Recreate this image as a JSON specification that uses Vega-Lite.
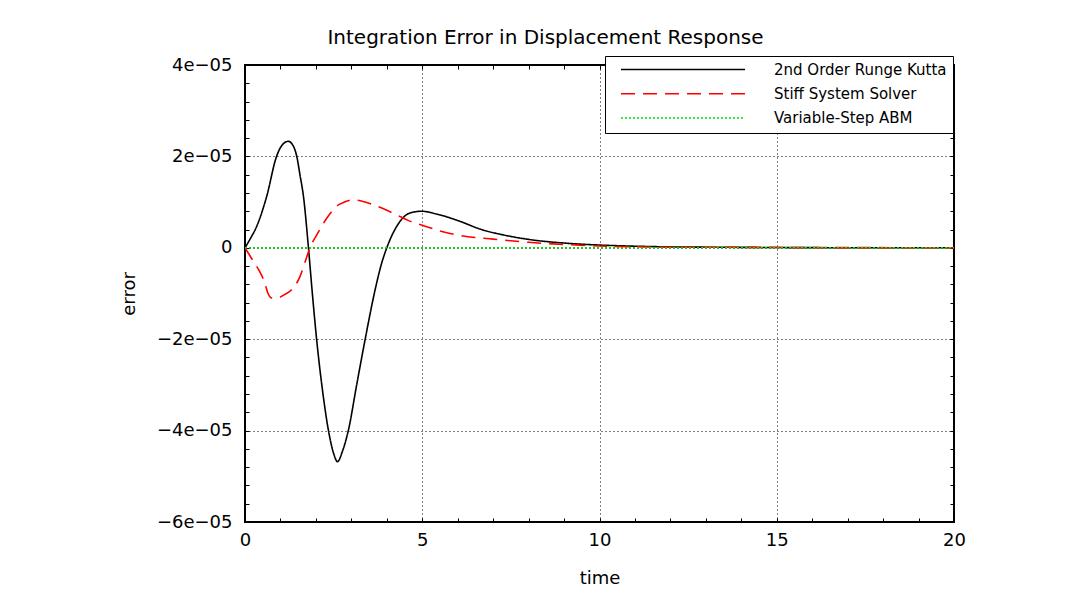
{
  "$schema": "https://vega.github.io/schema/vega-lite/v6.json",
  "autosize": "none",
  "width": 709,
  "height": 457,
  "padding": {"left": 245, "top": 65, "right": 131, "bottom": 77},
  "background": "white",
  "config": {
    "font": "DejaVu Sans",
    "view": {"stroke": "black", "strokeWidth": 2},
    "axis": {"labelColor": "black", "titleColor": "black", "tickColor": "black", "domain": false, "labelFontSize": 18, "titleFontSize": 18, "titleFontWeight": "normal", "labelFont": "DejaVu Sans", "titleFont": "DejaVu Sans"}
  },
  "title": {"text": "Integration Error in Displacement Response", "fontSize": 20, "fontWeight": "normal", "font": "DejaVu Sans", "color": "black", "anchor": "middle", "dx": -54, "baseline": "alphabetic", "offset": -8},
  "data": {"values": [
    {"s": "2nd Order Runge Kutta", "t": 0, "v": 0},
    {"s": "2nd Order Runge Kutta", "t": 0.15, "v": 0.2e-5},
    {"s": "2nd Order Runge Kutta", "t": 0.33, "v": 0.47e-5},
    {"s": "2nd Order Runge Kutta", "t": 0.61, "v": 1.12e-5},
    {"s": "2nd Order Runge Kutta", "t": 0.89, "v": 2.0e-5},
    {"s": "2nd Order Runge Kutta", "t": 1.05, "v": 2.25e-5},
    {"s": "2nd Order Runge Kutta", "t": 1.22, "v": 2.33e-5},
    {"s": "2nd Order Runge Kutta", "t": 1.38, "v": 2.2e-5},
    {"s": "2nd Order Runge Kutta", "t": 1.46, "v": 2.0e-5},
    {"s": "2nd Order Runge Kutta", "t": 1.55, "v": 1.6e-5},
    {"s": "2nd Order Runge Kutta", "t": 1.65, "v": 1.12e-5},
    {"s": "2nd Order Runge Kutta", "t": 1.79, "v": 0},
    {"s": "2nd Order Runge Kutta", "t": 1.9, "v": -1.0e-5},
    {"s": "2nd Order Runge Kutta", "t": 2.02, "v": -2.0e-5},
    {"s": "2nd Order Runge Kutta", "t": 2.2, "v": -3.2e-5},
    {"s": "2nd Order Runge Kutta", "t": 2.35, "v": -3.98e-5},
    {"s": "2nd Order Runge Kutta", "t": 2.5, "v": -4.5e-5},
    {"s": "2nd Order Runge Kutta", "t": 2.61, "v": -4.68e-5},
    {"s": "2nd Order Runge Kutta", "t": 2.75, "v": -4.45e-5},
    {"s": "2nd Order Runge Kutta", "t": 2.92, "v": -3.98e-5},
    {"s": "2nd Order Runge Kutta", "t": 3.15, "v": -3.0e-5},
    {"s": "2nd Order Runge Kutta", "t": 3.39, "v": -2.0e-5},
    {"s": "2nd Order Runge Kutta", "t": 3.67, "v": -0.92e-5},
    {"s": "2nd Order Runge Kutta", "t": 3.85, "v": -0.35e-5},
    {"s": "2nd Order Runge Kutta", "t": 4.0, "v": 0},
    {"s": "2nd Order Runge Kutta", "t": 4.28, "v": 0.47e-5},
    {"s": "2nd Order Runge Kutta", "t": 4.65, "v": 0.76e-5},
    {"s": "2nd Order Runge Kutta", "t": 4.98, "v": 0.8e-5},
    {"s": "2nd Order Runge Kutta", "t": 5.4, "v": 0.74e-5},
    {"s": "2nd Order Runge Kutta", "t": 6.06, "v": 0.58e-5},
    {"s": "2nd Order Runge Kutta", "t": 6.63, "v": 0.41e-5},
    {"s": "2nd Order Runge Kutta", "t": 7.3, "v": 0.28e-5},
    {"s": "2nd Order Runge Kutta", "t": 8.13, "v": 0.17e-5},
    {"s": "2nd Order Runge Kutta", "t": 9.07, "v": 0.1e-5},
    {"s": "2nd Order Runge Kutta", "t": 10, "v": 0.06e-5},
    {"s": "2nd Order Runge Kutta", "t": 10.77, "v": 0.04e-5},
    {"s": "2nd Order Runge Kutta", "t": 12, "v": 0.02e-5},
    {"s": "2nd Order Runge Kutta", "t": 14, "v": 0.01e-5},
    {"s": "2nd Order Runge Kutta", "t": 16, "v": 0.003e-5},
    {"s": "2nd Order Runge Kutta", "t": 20, "v": 0},
    {"s": "Stiff System Solver", "t": 0, "v": 0},
    {"s": "Stiff System Solver", "t": 0.2, "v": -0.25e-5},
    {"s": "Stiff System Solver", "t": 0.4, "v": -0.5e-5},
    {"s": "Stiff System Solver", "t": 0.55, "v": -0.75e-5},
    {"s": "Stiff System Solver", "t": 0.65, "v": -1.0e-5},
    {"s": "Stiff System Solver", "t": 0.75, "v": -1.1e-5},
    {"s": "Stiff System Solver", "t": 0.9, "v": -1.1e-5},
    {"s": "Stiff System Solver", "t": 1.1, "v": -1.03e-5},
    {"s": "Stiff System Solver", "t": 1.3, "v": -0.93e-5},
    {"s": "Stiff System Solver", "t": 1.55, "v": -0.63e-5},
    {"s": "Stiff System Solver", "t": 1.7, "v": -0.3e-5},
    {"s": "Stiff System Solver", "t": 1.83, "v": 0},
    {"s": "Stiff System Solver", "t": 2.0, "v": 0.25e-5},
    {"s": "Stiff System Solver", "t": 2.15, "v": 0.45e-5},
    {"s": "Stiff System Solver", "t": 2.3, "v": 0.64e-5},
    {"s": "Stiff System Solver", "t": 2.45, "v": 0.8e-5},
    {"s": "Stiff System Solver", "t": 2.6, "v": 0.92e-5},
    {"s": "Stiff System Solver", "t": 2.8, "v": 1.0e-5},
    {"s": "Stiff System Solver", "t": 3.06, "v": 1.05e-5},
    {"s": "Stiff System Solver", "t": 3.3, "v": 1.02e-5},
    {"s": "Stiff System Solver", "t": 3.62, "v": 0.94e-5},
    {"s": "Stiff System Solver", "t": 4.0, "v": 0.82e-5},
    {"s": "Stiff System Solver", "t": 4.28, "v": 0.72e-5},
    {"s": "Stiff System Solver", "t": 4.6, "v": 0.6e-5},
    {"s": "Stiff System Solver", "t": 4.98, "v": 0.5e-5},
    {"s": "Stiff System Solver", "t": 5.5, "v": 0.37e-5},
    {"s": "Stiff System Solver", "t": 6.06, "v": 0.27e-5},
    {"s": "Stiff System Solver", "t": 7.0, "v": 0.19e-5},
    {"s": "Stiff System Solver", "t": 8.0, "v": 0.12e-5},
    {"s": "Stiff System Solver", "t": 9.07, "v": 0.07e-5},
    {"s": "Stiff System Solver", "t": 10, "v": 0.04e-5},
    {"s": "Stiff System Solver", "t": 12, "v": 0.015e-5},
    {"s": "Stiff System Solver", "t": 14, "v": 0.01e-5},
    {"s": "Stiff System Solver", "t": 20, "v": 0},
    {"s": "Variable-Step ABM", "t": 0, "v": 0},
    {"s": "Variable-Step ABM", "t": 5, "v": 0},
    {"s": "Variable-Step ABM", "t": 10, "v": 0},
    {"s": "Variable-Step ABM", "t": 15, "v": 0},
    {"s": "Variable-Step ABM", "t": 20, "v": 0}
  ]},
  "layer": [
    {
      "mark": {"type": "line", "strokeWidth": 1.6, "interpolate": "monotone", "clip": true},
      "encoding": {
        "x": {"field": "t", "type": "quantitative", "scale": {"domain": [0, 20], "nice": false, "zero": false},
          "axis": {"orient": "bottom", "title": "time", "values": [0,1,2,3,4,5,6,7,8,9,10,11,12,13,14,15,16,17,18,19,20],
            "labelExpr": "datum.value % 5 === 0 ? datum.label : ''", "labelFlush": false, "labelPadding": 13, "titlePadding": 20,
            "tickSize": -4, "tickWidth": 1,
            "grid": true, "gridColor": "black", "gridDash": [1, 3], "gridWidth": 1,
            "gridOpacity": {"condition": {"test": "datum.value % 5 === 0 && datum.value > 0 && datum.value < 20", "value": 1}, "value": 0}}},
        "y": {"field": "v", "type": "quantitative", "scale": {"domain": [-6e-5, 4e-5], "nice": false, "zero": false},
          "axis": {"orient": "left", "title": "error", "values": [-6e-5,-5.6e-5,-5.2e-5,-4.8e-5,-4.4e-5,-4e-5,-3.6e-5,-3.2e-5,-2.8e-5,-2.4e-5,-2e-5,-1.6e-5,-1.2e-5,-8e-6,-4e-6,0,4e-6,8e-6,1.2e-5,1.6e-5,2e-5,2.4e-5,2.8e-5,3.2e-5,3.6e-5,4e-5],
            "labelExpr": "abs(datum.value*1e5/2 - round(datum.value*1e5/2)) < 0.01 ? (datum.value == 0 ? '0' : (datum.value < 0 ? '−' : '') + format(abs(datum.value)*1e5, 'd') + 'e−05') : ''",
            "labelFlush": false, "labelPadding": 17, "titlePadding": 18,
            "tickSize": -4, "tickWidth": 1,
            "grid": true, "gridColor": "black", "gridDash": [1, 3], "gridWidth": 1,
            "gridOpacity": {"condition": {"test": "abs(datum.value*1e5/2 - round(datum.value*1e5/2)) < 0.01 && datum.value > -5.9e-5 && datum.value < 3.9e-5", "value": 1}, "value": 0}}},
        "color": {"field": "s", "type": "nominal", "title": null,
          "scale": {"domain": ["2nd Order Runge Kutta", "Stiff System Solver", "Variable-Step ABM"], "range": ["black", "#ff0000", "#00dd00"]},
          "legend": {"orient": "none", "legendX": 360, "legendY": -9, "padding": 6, "strokeColor": "black", "fillColor": "white",
            "symbolType": "M-0.8647,0H1", "symbolSize": 17689, "symbolStrokeWidth": 1.5, "clipHeight": 15, "rowPadding": 8.3,
            "labelOffset": 28, "labelFontSize": 15, "labelFont": "DejaVu Sans", "labelColor": "black", "labelLimit": 400}},
        "strokeDash": {"field": "s", "type": "nominal", "title": null,
          "scale": {"domain": ["2nd Order Runge Kutta", "Stiff System Solver", "Variable-Step ABM"], "range": [[1, 0], [14, 8], [2, 2]]}}
      }
    },
    {
      "mark": {"type": "point", "opacity": 0},
      "encoding": {
        "x": {"field": "t", "type": "quantitative",
          "axis": {"orient": "top", "title": null, "labels": false, "grid": false, "values": [0,1,2,3,4,5,6,7,8,9,10,11,12,13,14,15,16,17,18,19,20], "tickSize": -4, "tickWidth": 1}},
        "y": {"field": "v", "type": "quantitative",
          "axis": {"orient": "right", "title": null, "labels": false, "grid": false, "values": [-6e-5,-5.6e-5,-5.2e-5,-4.8e-5,-4.4e-5,-4e-5,-3.6e-5,-3.2e-5,-2.8e-5,-2.4e-5,-2e-5,-1.6e-5,-1.2e-5,-8e-6,-4e-6,0,4e-6,8e-6,1.2e-5,1.6e-5,2e-5,2.4e-5,2.8e-5,3.2e-5,3.6e-5,4e-5], "tickSize": -4, "tickWidth": 1}}
      }
    }
  ],
  "resolve": {"axis": {"x": "independent", "y": "independent"}}
}
